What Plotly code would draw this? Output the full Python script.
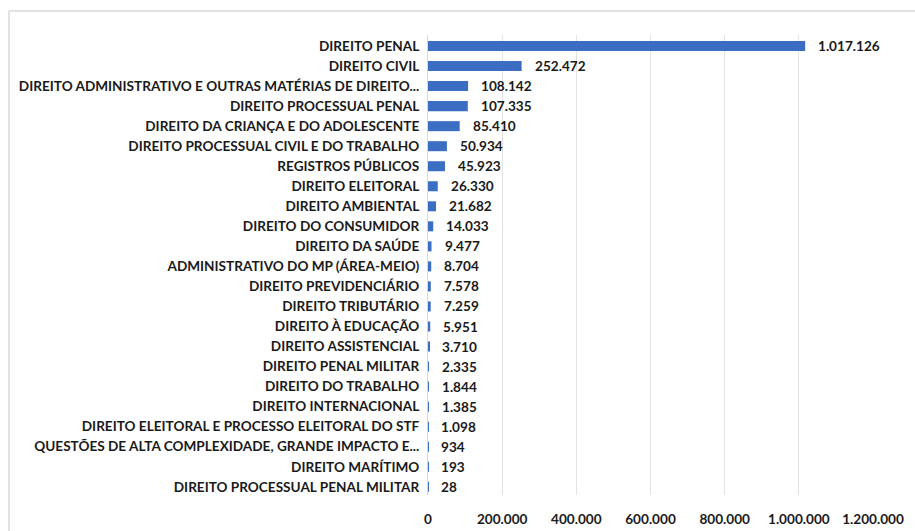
import plotly.graph_objects as go

categories = [
    "DIREITO PENAL", "DIREITO CIVIL",
    "DIREITO ADMINISTRATIVO E OUTRAS MATÉRIAS DE DIREITO...",
    "DIREITO PROCESSUAL PENAL", "DIREITO DA CRIANÇA E DO ADOLESCENTE",
    "DIREITO PROCESSUAL CIVIL E DO TRABALHO", "REGISTROS PÚBLICOS",
    "DIREITO ELEITORAL", "DIREITO AMBIENTAL", "DIREITO DO CONSUMIDOR",
    "DIREITO DA SAÚDE", "ADMINISTRATIVO DO MP (ÁREA-MEIO)",
    "DIREITO PREVIDENCIÁRIO", "DIREITO TRIBUTÁRIO", "DIREITO À EDUCAÇÃO",
    "DIREITO ASSISTENCIAL", "DIREITO PENAL MILITAR", "DIREITO DO TRABALHO",
    "DIREITO INTERNACIONAL", "DIREITO ELEITORAL E PROCESSO ELEITORAL DO STF",
    "QUESTÕES DE ALTA COMPLEXIDADE, GRANDE IMPACTO E...",
    "DIREITO MARÍTIMO", "DIREITO PROCESSUAL PENAL MILITAR",
]
values = [1017126, 252472, 108142, 107335, 85410, 50934, 45923, 26330, 21682,
          14033, 9477, 8704, 7578, 7259, 5951, 3710, 2335, 1844, 1385, 1098,
          934, 193, 28]
tick_values = [0, 200000, 400000, 600000, 800000, 1000000, 1200000]

def fmt(v):
    return f"{v:,}".replace(",", ".")

W, H = 915, 531
L, R, T, B = 428, 873, 35, 495

fig = go.Figure(go.Bar(
    x=values, y=categories, orientation="h",
    marker=dict(color="#3b6dc2", line=dict(width=0)),
    width=0.5,
))

FS = 13.6
annotations = [
    dict(x=v, y=c, xref="x", yref="y", text=fmt(v), showarrow=False,
         xanchor="left", xshift=11, yshift=0,
         font=dict(family="Lato", size=FS, color="#1a1a1a", weight="bold"))
    for c, v in zip(categories, values)
]

def px_x(p):
    return (p - L) / (R - L)

def px_y(p):
    return (B - p) / (B - T)

shapes = [
    dict(type="line", xref="paper", yref="paper", x0=px_x(9), x1=px_x(920),
         y0=px_y(11), y1=px_y(11), line=dict(color="#e2e2e2", width=2)),
    dict(type="line", xref="paper", yref="paper", x0=px_x(9), x1=px_x(9),
         y0=px_y(11), y1=px_y(540), line=dict(color="#e2e2e2", width=2)),
]

fig.update_layout(
    width=W, height=H,
    margin=dict(l=L, r=W - R, t=T, b=H - B, pad=0, autoexpand=False),
    paper_bgcolor="white", plot_bgcolor="white",
    showlegend=False,
    annotations=annotations,
    shapes=shapes,
    font=dict(family="Lato", size=FS, color="#1a1a1a"),
)
fig.update_xaxes(
    range=[0, 1200000], tickvals=tick_values,
    ticktext=[fmt(v) for v in tick_values],
    showgrid=True, gridcolor="#e3e3e3", gridwidth=1,
    zeroline=False, showline=False, ticks="",
    tickfont=dict(family="Lato", size=FS, color="#1a1a1a", weight="bold"),
    ticklabelstandoff=14, automargin=False,
)
fig.update_yaxes(
    categoryorder="array", categoryarray=categories,
    range=[22.41, -0.55],
    showgrid=False, zeroline=False, ticks="",
    showline=True, linecolor="#d9d9d9", linewidth=1,
    tickfont=dict(family="Lato", size=FS, color="#1a1a1a", weight="bold"),
    ticklabelstandoff=5, automargin=False,
)

fig.write_html("out.html", config={"displayModeBar": False},
               post_script="document.body.style.margin='0';")
